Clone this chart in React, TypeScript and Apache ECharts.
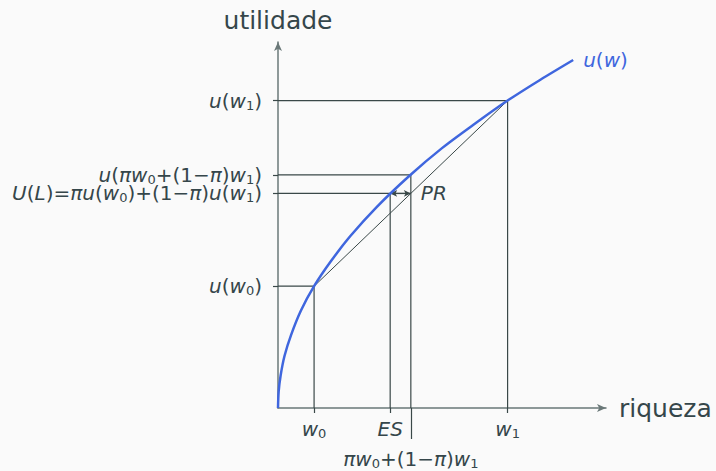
import React, { useEffect, useRef } from "react";
import * as echarts from "echarts";

// Utility curve u(w)
const curveW = [0, 0.02, 0.08, 0.2, 0.4, 0.7, 1.1, 1.6, 2.2, 3, 4, 5, 6, 7, 8, 9];
const curveU = [0, 0.14, 0.28, 0.45, 0.63, 0.84, 1.05, 1.26, 1.48, 1.73, 2.0, 2.24, 2.45, 2.65, 2.83, 3.0];

// Key points
const w0 = 1.1;
const u0 = 1.05;
const w1 = 7;
const u1 = 2.65;
const wMean = 4.05; // πw0+(1−π)w1
const uMean = 2.01; // u(πw0+(1−π)w1)
const uL = 1.85; // U(L)
const es = 3.42; // ES

const xTickValues = [w0, es, w1];
const xTickLabels = ["{i|w}{s|0}", "{i|ES}", "{i|w}{s|1}"];
const xMeanLabel = "{i|πw}{s|0}{n|+(1−}{i|π}{n|)}{i|w}{s|1}";
const yTickValues = [u0, uL, uMean, u1];
const yTickLabels = [
  "{i|u}{n|(}{i|w}{s|0}{n|)}",
  "{i|U}{n|(}{i|L}{n|)=}{i|πu}{n|(}{i|w}{s|0}{n|)+(1−}{i|π}{n|)}{i|u}{n|(}{i|w}{s|1}{n|)}",
  "{i|u}{n|(}{i|πw}{s|0}{n|+(1−}{i|π}{n|)}{i|w}{s|1}{n|)}",
  "{i|u}{n|(}{i|w}{s|1}{n|)}",
];

const FONT = "'DejaVu Sans', 'Open Sans', sans-serif";
const TEXT = "#35464a";
const AXIS = "#6a7878";
const GUIDE = "#3a4848";
const BLUE = "#3f66de";

function pick(values: number[], labels: string[], v: number) {
  let best = 0;
  for (let i = 0; i < values.length; i++) {
    if (Math.abs(values[i] - v) < Math.abs(values[best] - v)) best = i;
  }
  return Math.abs(values[best] - v) < 1e-6 ? labels[best] : "";
}

function rich(color: string) {
  return {
    i: { fontStyle: "italic", fontSize: 20, color, fontFamily: FONT, lineHeight: 22 },
    n: { fontSize: 20, color, fontFamily: FONT, lineHeight: 22 },
    s: { fontSize: 13, color, fontFamily: FONT, lineHeight: 10, verticalAlign: "bottom" },
  };
}

export default function App() {
  const ref = useRef<HTMLDivElement>(null);
  useEffect(() => {
    if (!ref.current) return;
    const chart = echarts.init(ref.current, undefined, { renderer: "svg" });
    const guide = (data: number[][], width = 1.2) => ({
      type: "line",
      data,
      symbol: "none",
      silent: true,
      z: 1,
      lineStyle: { color: GUIDE, width },
      xAxisIndex: 0,
      yAxisIndex: 0,
    });
    chart.setOption({
      animation: false,
      backgroundColor: "#fafafa",
      grid: { left: 278, right: 110, top: 42, bottom: 63 },
      xAxis: [
        {
          type: "value",
          min: 0,
          max: 10,
          name: "riqueza",
          nameLocation: "end",
          nameGap: 13,
          nameTextStyle: { fontSize: 25, color: TEXT, fontFamily: FONT, verticalAlign: "middle" },
          axisLine: {
            show: true,
            lineStyle: { color: AXIS, width: 1.5 },
            symbol: ["none", "arrow"],
            symbolSize: [6, 9],
          },
          axisTick: { show: true, length: 5, customValues: xTickValues, lineStyle: { color: GUIDE, width: 1.2 } },
          axisLabel: {
            show: true,
            customValues: xTickValues,
            margin: 10,
            formatter: (v: number) => pick(xTickValues, xTickLabels, v),
            rich: rich(TEXT),
          },
          splitLine: { show: false },
        },
        {
          type: "value",
          min: 0,
          max: 10,
          position: "bottom",
          axisLine: { show: false },
          axisTick: { show: true, length: 31, customValues: [wMean], lineStyle: { color: GUIDE, width: 1.2 } },
          axisLabel: {
            show: true,
            customValues: [wMean],
            margin: 40,
            formatter: () => xMeanLabel,
            rich: rich(TEXT),
          },
          splitLine: { show: false },
        },
      ],
      yAxis: {
        type: "value",
        min: 0,
        max: 3.155,
        name: "utilidade",
        nameLocation: "end",
        nameGap: 9,
        nameTextStyle: { fontSize: 25, color: TEXT, fontFamily: FONT, align: "center" },
        axisLine: {
          show: true,
          lineStyle: { color: AXIS, width: 1.5 },
          symbol: ["none", "arrow"],
          symbolSize: [6, 9],
        },
        axisTick: { show: true, length: 5, customValues: yTickValues, lineStyle: { color: GUIDE, width: 1.2 } },
        axisLabel: {
          show: true,
          customValues: yTickValues,
          margin: 16,
          formatter: (v: number) => pick(yTickValues, yTickLabels, v),
          rich: rich(TEXT),
        },
        splitLine: { show: false },
      },
      series: [
        guide([[0, u1], [w1, u1], [w1, 0]]),
        guide([[0, uMean], [wMean, uMean], [wMean, 0]]),
        guide([[0, uL], [wMean, uL]]),
        guide([[es, uL], [es, 0]]),
        guide([[0, u0], [w0, u0], [w0, 0]]),
        guide([[w0, u0], [w1, u1]], 1),
        {
          type: "line",
          data: [],
          silent: true,
          markLine: {
            silent: true,
            symbol: ["arrow", "arrow"],
            symbolSize: [5, 7],
            lineStyle: { color: GUIDE, width: 1.2, type: "solid" },
            label: {
              show: true,
              position: "end",
              distance: 10,
              formatter: "{i|PR}",
              rich: rich(TEXT),
            },
            data: [[{ coord: [es, uL] }, { coord: [wMean, uL] }]],
          },
        },
        {
          type: "line",
          data: curveW.map((w, i) => [w, curveU[i]]),
          smooth: 0.3,
          symbol: "none",
          z: 5,
          silent: true,
          lineStyle: { color: BLUE, width: 2.5 },
          endLabel: {
            show: true,
            distance: 10,
            formatter: () => "{i|u}{n|(}{i|w}{n|)}",
            rich: rich(BLUE),
          },
        },
      ],
    });
    return () => chart.dispose();
  }, []);
  return (
    <div
      ref={ref}
      style={{ position: "absolute", left: 0, top: 0, width: 716, height: 471 }}
    />
  );
}
